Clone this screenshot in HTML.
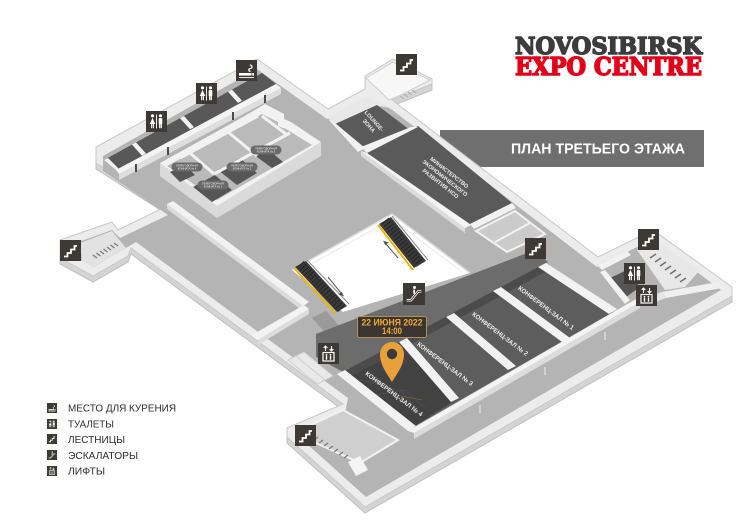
<!DOCTYPE html>
<html><head><meta charset="utf-8"><style>
html,body{margin:0;padding:0;background:#fff;width:738px;height:522px;overflow:hidden}
svg{display:block}
</style></head><body>
<svg width="738" height="522" viewBox="0 0 738 522" xmlns="http://www.w3.org/2000/svg" font-family="'Liberation Sans','DejaVu Sans',sans-serif">
<defs>
<symbol id="st" viewBox="0 0 21 21"><rect width="21" height="21" fill="#3d3935"/><path d="M4 16.5H7.5V13H11V9.5H14.5V6H17" fill="none" stroke="#fff" stroke-width="1.8"/></symbol>
<symbol id="wc" viewBox="0 0 21 21"><rect width="21" height="21" fill="#3d3935"/><g fill="#fff"><circle cx="6.5" cy="4.8" r="1.6"/><path d="M6.5 6.8L9.2 13H3.8Z"/><rect x="5.1" y="13" width="1.1" height="4.2"/><rect x="6.8" y="13" width="1.1" height="4.2"/><rect x="10.1" y="3.5" width="0.9" height="14"/><circle cx="14.5" cy="4.8" r="1.6"/><rect x="12.7" y="7" width="3.6" height="6.2" rx="0.8"/><rect x="13.1" y="13" width="1.2" height="4.2"/><rect x="14.7" y="13" width="1.2" height="4.2"/></g></symbol>
<symbol id="sm" viewBox="0 0 21 21"><rect width="21" height="21" fill="#3d3935"/><rect x="3" y="13" width="12.5" height="2.6" fill="#fff"/><rect x="16.2" y="13" width="1.8" height="2.6" fill="#fff"/><path d="M14.5 11.5c-2.6-.6-2.2-2.6 0-3.1s2.2-2.6-.6-3.6" fill="none" stroke="#fff" stroke-width="1.2"/><path d="M3 17.6h15" stroke="#fff" stroke-width="0.9"/></symbol>
<symbol id="lf" viewBox="0 0 21 21"><rect width="21" height="21" fill="#3d3935"/><path d="M7.5 3v5M5.6 5l1.9-2 1.9 2M13.5 3v5M11.6 6l1.9 2 1.9-2" stroke="#fff" fill="none" stroke-width="1.1"/><rect x="5" y="9.5" width="11" height="8.5" fill="none" stroke="#fff" stroke-width="1.2"/><g fill="#fff"><circle cx="8.5" cy="11.8" r="0.9"/><rect x="7.8" y="12.9" width="1.4" height="3.8"/><circle cx="12.5" cy="11.8" r="0.9"/><rect x="11.8" y="12.9" width="1.4" height="3.8"/></g></symbol>
<symbol id="es" viewBox="0 0 21 21"><rect width="21" height="21" fill="#3d3935"/><path d="M3.5 16.5h4l7-8.5h3" fill="none" stroke="#fff" stroke-width="2.4" stroke-linejoin="round"/><path d="M3.5 16.5h4l7-8.5h3" fill="none" stroke="#3d3935" stroke-width="0.9" stroke-linejoin="round"/><circle cx="11" cy="4.3" r="1.4" fill="#fff"/><path d="M10.6 6.3v4" stroke="#fff" stroke-width="1.6"/></symbol>
</defs>
<rect width="738" height="522" fill="#fff"/>

<!-- banner -->
<rect x="440" y="130" width="264" height="37" fill="#6f6f6f"/>
<text x="511" y="153.5" font-size="14.5" font-weight="bold" fill="#fff" textLength="174" lengthAdjust="spacingAndGlyphs">ПЛАН ТРЕТЬЕГО ЭТАЖА</text>

<!-- building footprint -->
<polygon transform="translate(0,6)" points="96,147 257,59 328,109 365,89 365,76 393,59 432,79 432,84 392,100 598,257 653,230 732,287 732,296 365,507 287,437 287,428 343,404 131,248 128,256 93,276 60,258 60,240 112,222 118,230 165,207 96,163" fill="#d4d4d4" stroke="#c0c0c0"/>
<polygon points="96,147 257,59 328,109 365,89 365,76 393,59 432,79 432,84 392,100 598,257 653,230 732,287 732,296 365,507 287,437 287,428 343,404 131,248 128,256 93,276 60,258 60,240 112,222 118,230 165,207 96,163" fill="#ececec" stroke="#c8c8c8"/>
<!-- floor -->
<polygon points="103,156 257,69 327,119 367,98 391,109 597,267 653,239 721,290 366,497 297,435 345,413 348,398 136,242 126,248 94,267 67,253 67,246 112,230 120,238 168,215 103,171" fill="#b4b4b4"/>

<!-- left stair block -->
<polygon points="80,243 112,231 126,248 94,267 82,261" fill="#e2e2e2"/>
<g stroke="#7a7a7a" stroke-width="1.3">
<line x1="93" y1="255" x2="97" y2="258"/><line x1="96.5" y1="253" x2="100.5" y2="256"/><line x1="100" y1="251" x2="104" y2="254"/><line x1="103.5" y1="249" x2="107.5" y2="252"/><line x1="107" y1="247" x2="111" y2="250"/><line x1="110.5" y1="245" x2="114.5" y2="248"/><line x1="114" y1="243" x2="118" y2="246"/>
</g>

<!-- wing rooms -->
<polygon points="104,160 262,73 276,84 116,170" fill="#585858"/>
<g fill="#f3f3f3">
<polygon points="104,160 108,158 119,169 116,170"/>
<polygon points="132,144.6 136,142.4 146,153.5 142,155.7"/>
<polygon points="180,118.2 184,116 194,127.1 190,129.3"/>
<polygon points="228,91.8 232,89.6 242,100.7 238,102.9"/>
</g>
<polygon points="116,170 276,84 281,88 119,174" fill="#f4f4f4"/>
<polygon points="119,174 281,88 281,94 119,180" fill="#dedede"/>
<g stroke="#4a4a4a" stroke-width="2">
<line x1="136" y1="164" x2="136" y2="172"/><line x1="168" y1="147" x2="168" y2="155"/><line x1="233" y1="112" x2="233" y2="120"/><line x1="265" y1="95" x2="265" y2="103"/>
</g>

<!-- meeting block -->
<polygon points="160,163 217,206 321,142 321,156 217,218 160,176" fill="#dadada"/>
<polygon points="160,163 243,117 265,104 284,114 284,119 291,122 321,142 217,206" fill="#f2f2f2"/>
<polygon points="167,166 243,124 262,114 278,122 278,126 286,129 312,145 217,200" fill="#bababa"/>
<polygon points="193,187 215,175 232,190 212,202" fill="#565656"/>
<polygon points="218,170 240,158 257,173 237,185" fill="#565656"/>
<polygon points="250,152 263,145 283,162 272,168" fill="#565656"/>
<polygon points="170,172 185,165 195,175 180,182" fill="#565656"/>
<g stroke="#f2f2f2" stroke-width="3" fill="none">
<line x1="180" y1="158" x2="258" y2="116"/>
<line x1="190" y1="153" x2="214" y2="174"/>
<line x1="228" y1="132" x2="257" y2="156"/>
<line x1="214" y1="174" x2="290" y2="133"/>
<line x1="262" y1="116" x2="286" y2="134"/>
</g>
<g font-size="2.7" fill="#eee" text-anchor="middle">
<rect x="171.5" y="162.5" width="31" height="9" rx="4.5" fill="#6a6a6a"/><text x="187" y="166.3">ПЕРЕГОВОРНАЯ</text><text x="187" y="169.6">КОМНАТА № 4</text>
<rect x="197.5" y="180.5" width="31" height="9" rx="4.5" fill="#6a6a6a"/><text x="213" y="184.3">ПЕРЕГОВОРНАЯ</text><text x="213" y="187.6">КОМНАТА № 1</text>
<rect x="226.5" y="162.5" width="31" height="9" rx="4.5" fill="#6a6a6a"/><text x="242" y="166.3">ПЕРЕГОВОРНАЯ</text><text x="242" y="169.6">КОМНАТА № 2</text>
<rect x="250.5" y="145.5" width="31" height="9" rx="4.5" fill="#6a6a6a"/><text x="266" y="149.3">ПЕРЕГОВОРНАЯ</text><text x="266" y="152.6">КОМНАТА № 3</text>
</g>

<!-- left hall inner wall + cross wall -->
<polygon points="167,204 303,306 303,311 167,209" fill="#dcdcdc"/>
<polygon points="167,204 173,201 309,302 303,306" fill="#f3f3f3"/>
<polygon points="258,340 309,309 309,314 258,345" fill="#dcdcdc"/>
<polygon points="252,335 304,305 309,309 258,340" fill="#f3f3f3"/>

<!-- lift lobby small rooms -->
<polygon points="288,360 304,352 333,376 317,384" fill="#e9e9e9" stroke="#cfcfcf"/>
<line x1="296" y1="356" x2="325" y2="380" stroke="#cfcfcf"/>
<polygon points="312,318 326,311 343,330 330,338" fill="#9a9a9a"/>

<!-- top: lounge, ministry -->
<polygon points="327,117 367,97 392,108 378,106 335,125" fill="#e8e8e8"/>
<polygon points="335,124 377,105 410,130 364,148" fill="#5a5a5a"/>
<polygon points="328,119 335,123 365,148 358,152" fill="#f2f2f2"/>
<polygon points="367,153 418,126 512,203 470,224" fill="#5a5a5a"/>
<polygon points="361,147 411,127 418,127 367,153" fill="#f2f2f2"/>
<polygon points="361,151 465,228 465,233 361,156" fill="#dcdcdc"/>
<polygon points="361,151 367,153 471,225 465,228" fill="#f4f4f4"/>
<polygon points="470,224 512,203 516,208 474,229" fill="#f2f2f2"/>
<polygon points="476,231 515,211 545,234 507,252" fill="#cbcbcb" stroke="#f2f2f2" stroke-width="2"/>
<line x1="495" y1="242" x2="530" y2="223" stroke="#f2f2f2" stroke-width="2"/>

<!-- top stair box -->
<polygon points="366,78 393,62 430,80 403,94 389,100" fill="#f7f7f7" stroke="#cfcfcf"/>
<g stroke="#aaa" stroke-width="1"><line x1="400" y1="96" x2="404" y2="99"/><line x1="404" y1="94" x2="408" y2="97"/><line x1="408" y1="92" x2="412" y2="95"/><line x1="412" y1="90" x2="416" y2="93"/></g>

<!-- band corridor -->
<polygon points="316,334 535,250 548,262 343,372 316,357" fill="#6c6c6c"/>

<!-- atrium -->
<polygon points="292,270 392,214 470,273 343,312" fill="#ffffff"/>
<polyline points="292,270 392,214 470,273" fill="none" stroke="#dedede" stroke-width="1.5"/>
<polyline points="299,271 392,219 462,272" fill="none" stroke="#e9e9e9" stroke-width="1"/>
<!-- escalators -->
<polygon points="295,267 306,261 347,306 337,312" fill="#3a3a3a"/>
<line x1="300.5" y1="264" x2="342" y2="309" stroke="#262626" stroke-width="9" stroke-dasharray="1.2 2.3"/>
<line x1="294" y1="268" x2="336" y2="314" stroke="#f0b400" stroke-width="2"/>
<line x1="307" y1="260" x2="349" y2="304" stroke="#888" stroke-width="1"/>
<polygon points="379,224 391,217 426,261 414,268" fill="#3a3a3a"/>
<line x1="385" y1="220.5" x2="420" y2="264.5" stroke="#262626" stroke-width="9" stroke-dasharray="1.2 2.3"/>
<line x1="378" y1="225" x2="413" y2="270" stroke="#f0b400" stroke-width="2"/>
<line x1="392" y1="216" x2="428" y2="260" stroke="#888" stroke-width="1"/>
<g stroke="#555" stroke-width="1" fill="#555">
<line x1="328" y1="277" x2="341" y2="293"/><path d="M343 295.5l-3.6-1.2 2.2-1.8z"/>
<line x1="398" y1="258" x2="386" y2="244"/><path d="M384 241.5l3.6 1.2-2.2 1.8z"/>
</g>

<!-- halls -->
<polygon points="343,372 542,265 613,312 412,428" fill="#5d5d5d"/>
<polygon points="343,372 403,340 455,400 412,428" fill="#424242"/>
<path d="M360 380l40 10 18 20M375 395l30-5 20 18" stroke="#4d4d4d" stroke-width="1" fill="none"/>
<path d="M395 395l28 5" stroke="#8a6a3a" stroke-width="0.6" fill="none"/>
<polygon points="343,372 542,265 547,271 348,378" fill="#4b4b4b"/>
<g fill="#f2f2f2">
<polygon points="337,374 345,370 416,426 408,431"/>
<polygon points="399,342 407,338 459,398 451,402"/>
<polygon points="446,317 454,313 516,366 508,370"/>
<polygon points="493,291 501,287 570,338 562,342"/>
<polygon points="538,267 546,263 617,309 609,314"/>
</g>
<polygon points="414,433 640,302 640,308 414,439" fill="#dcdcdc"/>
<polygon points="408,431 636,299 640,302 414,433" fill="#f4f4f4"/>
<g stroke="#d2d2d2" stroke-width="2">
<line x1="480" y1="405" x2="480" y2="413"/><line x1="545" y1="367" x2="545" y2="375"/><line x1="605" y1="332" x2="605" y2="340"/>
</g>
<g font-size="6.3" font-weight="bold" fill="#ececec" text-anchor="middle">
<text transform="translate(546,308) rotate(37)" y="2" textLength="68" lengthAdjust="spacingAndGlyphs">КОНФЕРЕНЦ-ЗАЛ № 1</text>
<text transform="translate(500,334) rotate(37)" y="2" textLength="68" lengthAdjust="spacingAndGlyphs">КОНФЕРЕНЦ-ЗАЛ № 2</text>
<text transform="translate(445,364) rotate(37)" y="2" textLength="68" lengthAdjust="spacingAndGlyphs">КОНФЕРЕНЦ-ЗАЛ № 3</text>
<text transform="translate(394,394) rotate(37)" y="2" textLength="70" lengthAdjust="spacingAndGlyphs">КОНФЕРЕНЦ-ЗАЛ № 4</text>
</g>
<g font-size="5.6" font-weight="bold" fill="#ececec" text-anchor="middle">
<g transform="translate(445,178) rotate(38)">
<text y="-5">МИНИСТЕРСТВО</text><text y="2">ЭКОНОМИЧЕСКОГО</text><text y="9">РАЗВИТИЯ НСО</text>
</g>
<g transform="translate(372,123) rotate(48)">
<text y="-1">LOUNGE-</text><text y="6">ЗОНА</text>
</g>
</g>

<!-- bottom-left stair block -->
<polygon points="294,433 343,410 398,440 360,463" fill="#cfcfcf" stroke="#f2f2f2" stroke-width="2"/>
<g stroke="#7a7a7a" stroke-width="1.3">
<line x1="314" y1="440" x2="318" y2="437"/><line x1="319" y1="443" x2="323" y2="440"/><line x1="324" y1="446" x2="328" y2="443"/><line x1="329" y1="449" x2="333" y2="446"/><line x1="334" y1="452" x2="338" y2="449"/><line x1="339" y1="455" x2="343" y2="452"/><line x1="344" y1="458" x2="348" y2="455"/>
</g>
<polygon points="348,462 360,456 368,470 356,476" fill="#f4f4f4"/>

<!-- right wing -->
<polygon points="598,266 627,251 631,255 602,270" fill="#f2f2f2"/>
<polygon points="637,250 655,240 700,270 685,287 665,290" fill="#e8e8e8"/>
<g stroke="#6f6f6f" stroke-width="1.5">
<line x1="650" y1="258" x2="656" y2="254"/><line x1="655" y1="262" x2="661" y2="258"/><line x1="660" y1="266" x2="666" y2="262"/><line x1="665" y1="270" x2="671" y2="266"/><line x1="670" y1="274" x2="676" y2="270"/><line x1="675" y1="278" x2="681" y2="274"/><line x1="680" y1="282" x2="686" y2="278"/>
</g>
<polygon points="608,279 627,270 640,287 622,300" fill="#555"/>
<polygon points="600,272 605,270 630,300 625,304" fill="#f2f2f2"/>
<polygon points="662,292 718,282 722,288 666,298" fill="#f0f0f0"/>
<polygon points="640,300 662,292 666,298 644,306" fill="#e4e4e4"/>

<!-- icons -->
<use href="#sm" x="236" y="60" width="21" height="21"/>
<use href="#wc" x="196" y="83" width="21" height="21"/>
<use href="#wc" x="146" y="111" width="21" height="21"/>
<use href="#st" x="396" y="54" width="21" height="21"/>
<use href="#st" x="60" y="240" width="21" height="21"/>
<use href="#st" x="525" y="238" width="21" height="21"/>
<use href="#st" x="638" y="229" width="21" height="21"/>
<use href="#wc" x="624" y="263" width="21" height="21"/>
<use href="#lf" x="636" y="285" width="21" height="21"/>
<use href="#lf" x="318" y="343" width="21" height="21"/>
<use href="#es" x="403" y="283" width="22" height="22"/>
<use href="#st" x="295" y="425" width="21" height="21"/>

<!-- marker -->
<rect x="357.5" y="316.5" width="69" height="21" rx="2" fill="#3a3531" stroke="#b98d52" stroke-width="1"/>
<text x="392" y="325.6" font-size="9.6" font-weight="bold" fill="#f2a93b" text-anchor="middle" textLength="61" lengthAdjust="spacingAndGlyphs">22 ИЮНЯ 2022</text>
<text x="392" y="334" font-size="9" font-weight="bold" fill="#f2a93b" text-anchor="middle" textLength="20" lengthAdjust="spacingAndGlyphs">14:00</text>
<path d="M392 382C386 372 380 365 380 354A12 12 0 1 1 404 354C404 365 398 372 392 382Z" fill="#e7a03a"/>
<circle cx="392" cy="354" r="5.2" fill="#3c3a38"/>

<!-- logo -->
<text x="515" y="54" font-family="'DejaVu Serif','Liberation Serif',serif" font-weight="bold" font-size="23" fill="#3c3c3c" stroke="#3c3c3c" stroke-width="1.5" stroke-linejoin="round" textLength="187" lengthAdjust="spacingAndGlyphs">NOVOSIBIRSK</text>
<text x="515" y="75" font-family="'DejaVu Serif','Liberation Serif',serif" font-weight="bold" font-size="24" fill="#e2001a" stroke="#e2001a" stroke-width="1.5" stroke-linejoin="round" textLength="187" lengthAdjust="spacingAndGlyphs">EXPO CENTRE</text>

<!-- legend -->
<use href="#sm" x="47" y="403" width="10" height="10"/>
<use href="#wc" x="47" y="419" width="10" height="10"/>
<use href="#st" x="47" y="434" width="10" height="10"/>
<use href="#es" x="47" y="450" width="10" height="10"/>
<use href="#lf" x="47" y="466" width="10" height="10"/>
<g font-size="10.2" fill="#2e2e2e">
<text x="68" y="411.7" textLength="108" lengthAdjust="spacingAndGlyphs">МЕСТО ДЛЯ КУРЕНИЯ</text>
<text x="68" y="427.3" textLength="46" lengthAdjust="spacingAndGlyphs">ТУАЛЕТЫ</text>
<text x="68" y="442.8" textLength="57" lengthAdjust="spacingAndGlyphs">ЛЕСТНИЦЫ</text>
<text x="68" y="459" textLength="70" lengthAdjust="spacingAndGlyphs">ЭСКАЛАТОРЫ</text>
<text x="68" y="474.4" textLength="37" lengthAdjust="spacingAndGlyphs">ЛИФТЫ</text>
</g>
</svg>
</body></html>
